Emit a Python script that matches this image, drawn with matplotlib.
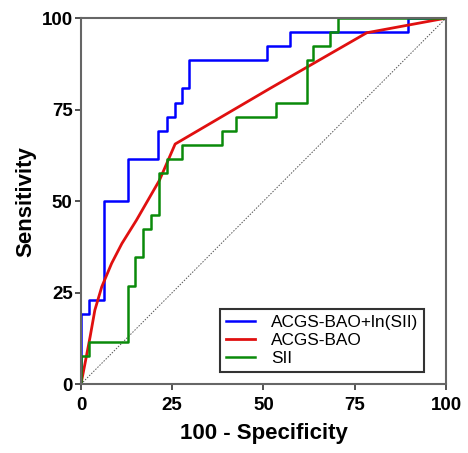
import matplotlib
matplotlib.use('Agg')
import matplotlib.pyplot as plt

plt.rcParams['font.family'] = ['Liberation Sans', 'DejaVu Sans']

###############################################################################
## ROC data (100 - specificity, sensitivity)
###############################################################################

# ACGS-BAO + ln(SII): step curve
combo_x = [0, 0, 2.3, 2.3, 6.4, 6.4, 13.0, 13.0, 21.2, 21.2, 23.5, 23.5,
           25.8, 25.8, 27.6, 27.6, 29.7, 29.7, 51.0, 51.0, 57.4, 57.4,
           89.7, 89.7, 100]
combo_y = [0, 19.2, 19.2, 23.1, 23.1, 50.0, 50.0, 61.5, 61.5, 69.2, 69.2,
           73.1, 73.1, 76.9, 76.9, 80.8, 80.8, 88.5, 88.5, 92.3, 92.3, 96.2,
           96.2, 100, 100]

# ACGS-BAO: smooth-ish curve
bao_x = [0, 1.1, 2.5, 3.8, 5.7, 8.4, 11.2, 15.2, 21.5, 25.8, 51.8, 78.3, 100]
bao_y = [0, 5.6, 12.9, 20.2, 26.6, 33.0, 38.4, 44.8, 55.7, 65.6, 80.8, 96.0, 100]

# SII: step curve
sii_x = [0, 0, 2.3, 2.3, 13.0, 13.0, 14.8, 14.8, 17.1, 17.1, 19.2, 19.2,
         21.3, 21.3, 23.5, 23.5, 27.6, 27.6, 38.5, 38.5, 42.6, 42.6, 53.4,
         53.4, 61.8, 61.8, 63.6, 63.6, 68.2, 68.2, 70.5, 70.5, 100]
sii_y = [0, 7.7, 7.7, 11.5, 11.5, 26.9, 26.9, 34.6, 34.6, 42.3, 42.3, 46.2,
         46.2, 57.7, 57.7, 61.5, 61.5, 65.4, 65.4, 69.2, 69.2, 73.1, 73.1,
         76.9, 76.9, 88.5, 88.5, 92.3, 92.3, 96.2, 96.2, 100, 100]

ticks = [0, 25, 50, 75, 100]

###############################################################################
## Plot
###############################################################################

fig = plt.figure(figsize=(4.68, 4.53), dpi=100)
ax = fig.add_axes([0.173, 0.152, 0.780, 0.808])

ax.plot([0, 100], [0, 100], color='#555555', linestyle=(0, (1.5, 1.5)),
        linewidth=0.7)
ax.plot(combo_x, combo_y, color='#0000ff', linewidth=1.8,
        label='ACGS-BAO+ln(SII)')
ax.plot(bao_x, bao_y, color='#e01010', linewidth=2.0, label='ACGS-BAO')
ax.plot(sii_x, sii_y, color='#0a8a0a', linewidth=1.8, label='SII')

ax.set_xlim(0, 100)
ax.set_ylim(0, 100)
ax.set_xticks(ticks)
ax.set_yticks(ticks)
ax.tick_params(direction='out', length=4, width=1.2, colors='#333333',
               labelcolor='black', labelsize=13.5)
ax.tick_params(axis='x', pad=5)
ax.tick_params(axis='y', pad=2)
for lab in ax.get_xticklabels() + ax.get_yticklabels():
    lab.set_fontweight('bold')
for sp in ax.spines.values():
    sp.set_color('#666666')
    sp.set_linewidth(1.5)

ax.set_xlabel('100 - Specificity', fontsize=16, fontweight='bold', labelpad=6.5)
ax.set_ylabel('Sensitivity', fontsize=16, fontweight='bold', labelpad=4)

leg = ax.legend(loc='lower right', fontsize=12.4, frameon=True, fancybox=False,
                handlelength=1.7, handletextpad=0.9, borderpad=0.35,
                labelspacing=0.15, borderaxespad=0,
                bbox_to_anchor=(0.94, 0.034))
leg.get_frame().set_edgecolor('black')
leg.get_frame().set_linewidth(1.5)

plt.savefig('out.png', dpi=100)
